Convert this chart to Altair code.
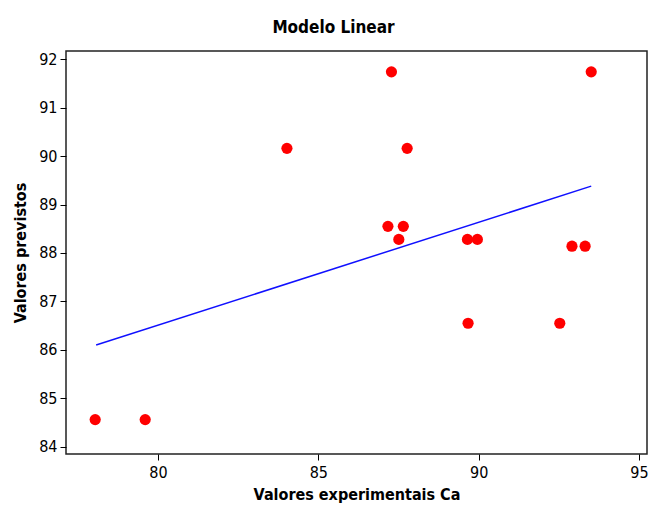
import altair as alt
import pandas as pd

# Experimental vs predicted Ca values
valores_exp = [78.04, 79.60, 84.02, 87.28, 87.77, 87.17, 87.65, 87.51, 89.65, 89.96,
               92.91, 93.32, 89.67, 92.53, 93.51]
valores_prev = [84.56, 84.56, 90.16, 91.74, 90.16, 88.55, 88.55, 88.28, 88.28, 88.28,
                88.14, 88.14, 86.55, 86.55, 91.74]

# Fitted linear model, drawn between the extreme x values
linha_x = [78.07, 93.51]
linha_y = [86.10, 89.38]

pontos = pd.DataFrame({"x": valores_exp, "y": valores_prev})
linha = pd.DataFrame({"x": linha_x, "y": linha_y})

FONT = "DejaVu Sans Condensed"

x_scale = alt.Scale(domain=[77.13, 95.25], nice=False, zero=False)
y_scale = alt.Scale(domain=[83.85, 92.17], nice=False, zero=False)

x_axis = alt.Axis(title="Valores experimentais Ca", values=[80, 85, 90, 95],
                  grid=False, tickColor="black", tickSize=6, domain=False,
                  labelFont=FONT, labelFontSize=16, labelColor="black",
                  titleFont=FONT, titleFontSize=16, titleFontWeight="bold",
                  titleColor="black", titlePadding=6, labelPadding=4)
y_axis = alt.Axis(title="Valores previstos", values=list(range(84, 93)),
                  grid=False, tickColor="black", tickSize=6, domain=False,
                  labelFont=FONT, labelFontSize=16, labelColor="black",
                  titleFont=FONT, titleFontSize=16, titleFontWeight="bold",
                  titleColor="black", titlePadding=10, labelPadding=3)

reta = alt.Chart(linha).mark_line(color="#1010ff", strokeWidth=1.5).encode(
    x=alt.X("x:Q", scale=x_scale, axis=x_axis),
    y=alt.Y("y:Q", scale=y_scale, axis=y_axis),
)

dispersao = alt.Chart(pontos).mark_point(
    filled=True, shape="circle", size=125, color="#ff0000", opacity=1
).encode(
    x=alt.X("x:Q", scale=x_scale),
    y=alt.Y("y:Q", scale=y_scale),
)

chart = alt.layer(reta, dispersao).properties(
    width=581,
    height=403,
    background="white",
    title=alt.TitleParams("Modelo Linear", font=FONT, fontSize=17,
                          fontWeight="bold", color="black", anchor="middle",
                          dx=-23, offset=14),
    autosize=alt.AutoSizeParams(type="none"),
    padding={"left": 66, "top": 51, "right": 3, "bottom": 54},
).configure_view(
    stroke="#222222", strokeWidth=1.5
)

chart.save("out.html", embed_options={"renderer": "svg", "actions": False})
